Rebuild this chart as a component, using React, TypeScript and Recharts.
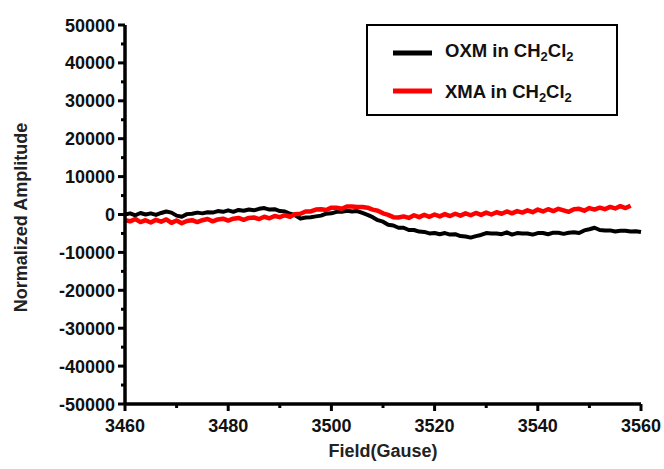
import { LineChart, Line, XAxis, YAxis, Legend } from 'recharts';

// field axis (Gauss)
const field = [
  3460, 3461, 3462, 3463, 3464, 3465, 3466, 3467, 3468, 3469,
  3470, 3471, 3472, 3473, 3474, 3475, 3476, 3477, 3478, 3479,
  3480, 3481, 3482, 3483, 3484, 3485, 3486, 3487, 3488, 3489,
  3490, 3491, 3492, 3493, 3494, 3495, 3496, 3497, 3498, 3499,
  3500, 3501, 3502, 3503, 3504, 3505, 3506, 3507, 3508, 3509,
  3510, 3511, 3512, 3513, 3514, 3515, 3516, 3517, 3518, 3519,
  3520, 3521, 3522, 3523, 3524, 3525, 3526, 3527, 3528, 3529,
  3530, 3531, 3532, 3533, 3534, 3535, 3536, 3537, 3538, 3539,
  3540, 3541, 3542, 3543, 3544, 3545, 3546, 3547, 3548, 3549,
  3550, 3551, 3552, 3553, 3554, 3555, 3556, 3557, 3558, 3559,
  3560,
];

// OXM in CH2Cl2 (black)
const oxm = [
  0, 300, -200, 400, 0, 300, -100, 400, 800, 500,
  -300, -600, 100, 200, 500, 300, 600, 500, 900, 700,
  1100, 700, 1200, 1000, 1300, 1100, 1500, 1700, 1300, 1400,
  900, 800, 200, -200, -1100, -800, -700, -500, -300, 200,
  300, 700, 700, 1000, 800, 900, 400, -100, -700, -1500,
  -1900, -2700, -2900, -3500, -3500, -4100, -4100, -4500, -4600, -5000,
  -4900, -5200, -4900, -5300, -5200, -5700, -5800, -6100, -5700, -5400,
  -4900, -5000, -5000, -5200, -4700, -5300, -4900, -5000, -5000, -5300,
  -4900, -4900, -5200, -4800, -4800, -5100, -4800, -4700, -4900, -4200,
  -3900, -3500, -4100, -4200, -4200, -4500, -4300, -4300, -4500, -4400,
  -4600,
];

// XMA in CH2Cl2 (red)
const xma: (number | null)[] = [
  -1500, -1800, -1200, -2000, -1500, -2100, -1400, -1900, -1300, -2200,
  -1600, -2300, -1700, -1500, -2000, -1500, -1200, -1800, -1300, -1100,
  -1600, -1100, -900, -1400, -900, -800, -1200, -600, -1000, -400,
  -700, -200, -600, 100, 200, 800, 800, 1300, 1400, 1200,
  1800, 1800, 1500, 2100, 2100, 2000, 2000, 1800, 1300, 1000,
  300, -100, -700, -800, -500, -900, -200, -700, -100, -600,
  0, -500, 100, -400, 200, -300, 300, -200, 400, -100,
  500, 0, 600, 200, 800, 300, 900, 500, 1100, 600,
  1300, 800, 1400, 900, 1500, 1100, 700, 1400, 1500, 1000,
  1700, 1300, 1800, 1400, 2000, 1600, 2200, 1700, 2300, null,
  null,
];

const xTicks = [3460, 3470, 3480, 3490, 3500, 3510, 3520, 3530, 3540, 3550, 3560];
const yTicks = [
  -50000, -45000, -40000, -35000, -30000, -25000, -20000, -15000, -10000, -5000, 0,
  5000, 10000, 15000, 20000, 25000, 30000, 35000, 40000, 45000, 50000,
];

const data = field.map((f, i) => ({ field: f, oxm: oxm[i], xma: xma[i] }));

const FONT = '"Liberation Sans", Arial, sans-serif';

const XTick = (props: any) => {
  const { x, y, payload } = props;
  const major = (payload.value - 3460) % 20 === 0;
  return (
    <g>
      <line x1={x} y1={y} x2={x} y2={y + (major ? 7 : 4)} stroke="#000" strokeWidth={3} />
      {major && (
        <text x={x} y={y + 28} textAnchor="middle" fontFamily={FONT} fontWeight="bold" fontSize={18} fill="#111">
          {payload.value}
        </text>
      )}
    </g>
  );
};

const YTick = (props: any) => {
  const { x, y, payload } = props;
  const major = payload.value % 10000 === 0;
  return (
    <g>
      <line x1={x} y1={y} x2={x - (major ? 7 : 4)} y2={y} stroke="#000" strokeWidth={3} />
      {major && (
        <text x={x - 10} y={y + 6.5} textAnchor="end" fontFamily={FONT} fontWeight="bold" fontSize={18} fill="#111">
          {payload.value}
        </text>
      )}
    </g>
  );
};

const LegendBox = () => (
  <div style={{ width: 252, height: 92, border: '2px solid #000', boxSizing: 'border-box', background: '#fff' }}>
    <svg width={248} height={88} style={{ display: 'block' }}>
      <line x1={25} y1={27} x2={64} y2={27} stroke="#000" strokeWidth={5} />
      <text x={77} y={31} fontFamily={FONT} fontWeight="bold" fontSize={18.5} fill="#111">
        OXM in CH<tspan fontSize={13} dy={4}>2</tspan>
        <tspan dy={-4}>Cl</tspan>
        <tspan fontSize={13} dy={4}>2</tspan>
      </text>
      <line x1={25} y1={65} x2={64} y2={65} stroke="#ff0000" strokeWidth={5} />
      <text x={77} y={72} fontFamily={FONT} fontWeight="bold" fontSize={18.5} fill="#111">
        XMA in CH<tspan fontSize={13} dy={4}>2</tspan>
        <tspan dy={-4}>Cl</tspan>
        <tspan fontSize={13} dy={4}>2</tspan>
      </text>
    </svg>
  </div>
);

const App = () => (
  <div style={{ position: 'absolute', left: 0, top: 0, width: 664, height: 469, background: '#fff' }}>
    <LineChart width={664} height={469} data={data} margin={{ top: 25, right: 23, bottom: 0, left: 0 }}>
      <XAxis
        dataKey="field"
        type="number"
        domain={[3460, 3560]}
        ticks={xTicks}
        interval={0}
        height={65}
        tickSize={0}
        tickMargin={0}
        tickLine={false}
        tick={<XTick />}
        axisLine={{ stroke: '#000', strokeWidth: 3.5 }}
        label={(p: any) => (
          <text
            x={p.viewBox.x + p.viewBox.width / 2}
            y={p.viewBox.y + 53}
            textAnchor="middle"
            fontFamily={FONT}
            fontWeight="bold"
            fontSize={18}
            fill="#222"
          >
            Field(Gause)
          </text>
        )}
      />
      <YAxis
        type="number"
        domain={[-50000, 50000]}
        ticks={yTicks}
        interval={0}
        width={125}
        tickSize={0}
        tickMargin={0}
        tickLine={false}
        tick={<YTick />}
        axisLine={{ stroke: '#000', strokeWidth: 3.5 }}
        label={(p: any) => {
          const cx = p.viewBox.x + 21;
          const cy = p.viewBox.y + p.viewBox.height / 2 + 3;
          return (
            <text
              x={cx}
              y={cy}
              transform={`rotate(-90 ${cx} ${cy})`}
              textAnchor="middle"
              dominantBaseline="central"
              fontFamily={FONT}
              fontWeight="bold"
              fontSize={18}
              fill="#222"
            >
              Normalized Amplitude
            </text>
          );
        }}
      />
      <Legend
        layout="vertical"
        align="center"
        verticalAlign="middle"
        content={() => <LegendBox />}
        wrapperStyle={{ left: 366, top: 24, width: 252, height: 92 }}
      />
      <Line dataKey="oxm" name="OXM in CH2Cl2" stroke="#000" strokeWidth={4} dot={false} isAnimationActive={false} strokeLinejoin="round" />
      <Line dataKey="xma" name="XMA in CH2Cl2" stroke="#ff0000" strokeWidth={4.5} dot={false} isAnimationActive={false} strokeLinejoin="round" />
    </LineChart>
  </div>
);

export default App;
